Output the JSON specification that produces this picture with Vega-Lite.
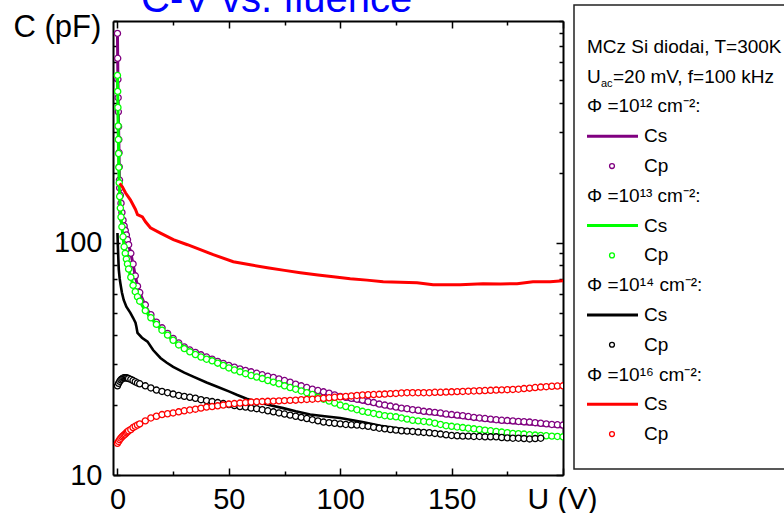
{
"$schema":"https://vega.github.io/schema/vega-lite/v6.json",
"width":450,"height":454,
"autosize":{"type":"none"},
"padding":{"left":113,"top":21,"right":221,"bottom":38},
"background":"white",
"config":{"view":{"stroke":null},"font":"Liberation Sans","axis":{"grid":false}},
"datasets":{
"pts":[
{"u":0,"a":796,"b":525,"c":24.2,"d":13.7},
{"u":0.1,"a":622,"b":448},
{"u":0.2,"a":505,"b":382},
{"u":0.3,"a":421,"b":318},
{"u":0.4,"a":366,"b":278},
{"u":0.5,"a":316,"b":242,"c":24.8,"d":13.95},
{"u":0.6,"a":278,"b":211},
{"u":0.7,"a":244},
{"u":0.8,"a":212,"b":181},
{"u":0.9,"a":186},
{"u":1,"a":172,"b":158,"c":25.3,"d":14.2},
{"u":1.3,"a":160,"b":141},
{"u":1.5,"c":25.7,"d":14.4},
{"u":1.6,"a":148,"b":129},
{"u":2,"a":135,"b":117,"c":25.9,"d":14.6},
{"u":2.5,"a":125,"b":106,"c":26.1,"d":14.75},
{"u":3,"a":118,"b":96,"c":26.2,"d":14.9},
{"u":3.5,"a":113,"b":90,"c":26.2,"d":15.0},
{"u":4,"a":108,"b":85,"c":26.2,"d":15.2},
{"u":4.5,"a":103,"b":81,"c":26.1,"d":15.35},
{"u":5,"a":98,"b":77,"c":26.0,"d":15.5},
{"u":6,"a":90,"b":71,"c":25.8,"d":15.7},
{"u":7,"a":81,"b":65.5,"c":25.5,"d":16.0},
{"u":8,"a":72,"b":61.5,"c":25.2,"d":16.2},
{"u":9,"a":65,"b":58.5,"c":24.9,"d":16.4},
{"u":10,"a":61,"b":56,"c":24.7,"d":16.6},
{"u":12.5,"a":54,"b":51,"c":24.2,"d":17.1},
{"u":15,"a":49,"b":47.5,"c":23.7,"d":17.6},
{"u":17.5,"a":45.5,"b":44.5,"c":23.2,"d":17.9},
{"u":20,"a":43,"b":42,"c":22.9,"d":18.2},
{"u":22.5,"a":40.7,"b":40,"c":22.6,"d":18.35},
{"u":25,"a":38.7,"b":38,"c":22.3,"d":18.5},
{"u":27.5,"a":37.0,"b":36.3,"c":22.0,"d":18.7},
{"u":30,"a":35.6,"b":35,"c":21.8,"d":18.9},
{"u":32.5,"a":34.5,"b":33.9,"c":21.6,"d":19.05},
{"u":35,"a":33.7,"b":33,"c":21.4,"d":19.2},
{"u":37.5,"a":32.9,"b":32.2,"c":21.1,"d":19.4},
{"u":40,"a":32.2,"b":31.5,"c":20.9,"d":19.6},
{"u":42.5,"a":31.5,"b":31.0,"c":20.7,"d":19.7},
{"u":45,"a":30.8,"b":30.3,"c":20.5,"d":19.85},
{"u":47.5,"a":30.2,"b":29.6,"c":20.3,"d":20.0},
{"u":50,"a":29.6,"b":28.9,"c":20.1,"d":20.2},
{"u":52.5,"a":29.1,"b":28.3,"c":19.9,"d":20.3},
{"u":55,"a":28.6,"b":27.8,"c":19.7,"d":20.4},
{"u":57.5,"a":28.2,"b":27.3,"c":19.6,"d":20.5},
{"u":60,"a":27.8,"b":26.8,"c":19.4,"d":20.6},
{"u":62.5,"a":27.4,"b":26.4,"c":19.3,"d":20.65},
{"u":65,"a":27.0,"b":26.0,"c":19.1,"d":20.7},
{"u":67.5,"a":26.6,"b":25.5,"c":18.9,"d":20.75},
{"u":70,"a":26.3,"b":25.1,"c":18.7,"d":20.8},
{"u":72.5,"a":25.9,"b":24.7,"c":18.5,"d":20.85},
{"u":75,"a":25.5,"b":24.2,"c":18.3,"d":20.9},
{"u":77.5,"a":25.1,"b":23.8,"c":18.1,"d":20.95},
{"u":80,"a":24.6,"b":23.4,"c":17.9,"d":21.0},
{"u":82.5,"a":24.2,"b":23.0,"c":17.7,"d":21.1},
{"u":85,"a":23.8,"b":22.6,"c":17.5,"d":21.15},
{"u":87.5,"a":23.4,"b":22.2,"c":17.3,"d":21.2},
{"u":90,"a":23.1,"b":21.6,"c":17.1,"d":21.3},
{"u":92.5,"a":22.8,"b":21.2,"c":16.9,"d":21.4},
{"u":95,"a":22.5,"b":20.8,"c":16.8,"d":21.5},
{"u":97.5,"a":22.1,"b":20.4,"c":16.7,"d":21.6},
{"u":100,"a":21.8,"b":20.0,"c":16.6,"d":21.7},
{"u":102.5,"a":21.6,"b":19.7,"c":16.5,"d":21.8},
{"u":105,"a":21.4,"b":19.4,"c":16.45,"d":21.9},
{"u":107.5,"a":21.2,"b":19.1,"c":16.4,"d":22.0},
{"u":110,"a":21.0,"b":18.8,"c":16.3,"d":22.1},
{"u":112.5,"a":20.7,"b":18.6,"c":16.2,"d":22.15},
{"u":115,"a":20.5,"b":18.4,"c":16.05,"d":22.2},
{"u":117.5,"a":20.2,"b":18.2,"c":15.9,"d":22.25},
{"u":120,"a":20.0,"b":18.0,"c":15.8,"d":22.3},
{"u":122.5,"a":19.8,"b":17.9,"c":15.7,"d":22.4},
{"u":125,"a":19.6,"b":17.8,"c":15.6,"d":22.45},
{"u":127.5,"a":19.4,"b":17.6,"c":15.5,"d":22.55},
{"u":130,"a":19.3,"b":17.4,"c":15.45,"d":22.6},
{"u":132.5,"a":19.1,"b":17.2,"c":15.4,"d":22.6},
{"u":135,"a":19.0,"b":17.1,"c":15.3,"d":22.6},
{"u":137.5,"a":18.8,"b":17.0,"c":15.25,"d":22.6},
{"u":140,"a":18.7,"b":16.9,"c":15.2,"d":22.6},
{"u":142.5,"a":18.6,"b":16.7,"c":15.1,"d":22.7},
{"u":145,"a":18.5,"b":16.5,"c":15.0,"d":22.7},
{"u":147.5,"a":18.3,"b":16.3,"c":14.9,"d":22.75},
{"u":150,"a":18.2,"b":16.2,"c":14.8,"d":22.8},
{"u":152.5,"a":18.1,"b":16.1,"c":14.75,"d":22.85},
{"u":155,"a":18.0,"b":16.0,"c":14.7,"d":22.9},
{"u":157.5,"a":17.85,"b":15.9,"c":14.7,"d":22.95},
{"u":160,"a":17.7,"b":15.8,"c":14.65,"d":23.0},
{"u":162.5,"a":17.6,"b":15.7,"c":14.65,"d":23.05},
{"u":165,"a":17.5,"b":15.6,"c":14.6,"d":23.1},
{"u":167.5,"a":17.4,"b":15.5,"c":14.6,"d":23.15},
{"u":170,"a":17.3,"b":15.4,"c":14.6,"d":23.2},
{"u":172.5,"a":17.2,"b":15.3,"c":14.5,"d":23.25},
{"u":175,"a":17.15,"b":15.2,"c":14.45,"d":23.3},
{"u":177.5,"a":17.1,"b":15.1,"c":14.4,"d":23.35},
{"u":180,"a":17.0,"b":15.05,"c":14.4,"d":23.4},
{"u":182.5,"a":16.95,"b":15.0,"c":14.35,"d":23.55},
{"u":185,"a":16.9,"b":14.9,"c":14.3,"d":23.65},
{"u":187.5,"a":16.8,"b":14.85,"c":14.35,"d":23.8},
{"u":190,"a":16.7,"b":14.8,"c":14.4,"d":23.9},
{"u":192.5,"a":16.6,"b":14.75,"d":24.0},
{"u":195,"a":16.5,"b":14.7,"d":24.1},
{"u":197.5,"a":16.45,"b":14.65,"d":24.15},
{"u":200,"a":16.4,"b":14.6,"d":24.2}
],
"ls12":[{"u":0,"v":800},{"u":0.1,"v":630},{"u":0.2,"v":510},{"u":0.3,"v":425},{"u":0.4,"v":370},{"u":0.5,"v":318},{"u":0.6,"v":280},{"u":0.7,"v":245},{"u":0.8,"v":213},{"u":0.9,"v":188},{"u":1,"v":172},{"u":1.3,"v":160},{"u":1.6,"v":148},{"u":2,"v":135},{"u":2.5,"v":125},{"u":3,"v":118},{"u":3.5,"v":113},{"u":4,"v":108},{"u":5,"v":98},{"u":6,"v":90},{"u":7,"v":81},{"u":8,"v":72},{"u":9,"v":65},{"u":10,"v":61},{"u":12.5,"v":53.5},{"u":15,"v":48.5},{"u":17.5,"v":45},{"u":20,"v":42.5},{"u":25,"v":38.3},{"u":30,"v":35.2},{"u":35,"v":33.3},{"u":40,"v":31.8},{"u":45,"v":30.4},{"u":50,"v":29.2},{"u":55,"v":28.2},{"u":60,"v":27.3},{"u":65,"v":26.5},{"u":70,"v":25.8},{"u":75,"v":25.0},{"u":80,"v":24.2},{"u":85,"v":23.4},{"u":90,"v":22.7},{"u":95,"v":22.1},{"u":100,"v":21.5},{"u":110,"v":20.6},{"u":120,"v":19.7},{"u":130,"v":19.0},{"u":140,"v":18.4},{"u":150,"v":17.9},{"u":160,"v":17.4},{"u":170,"v":17.0},{"u":180,"v":16.7},{"u":190,"v":16.4},{"u":200,"v":16.1}],
"ls13":[{"u":0,"v":525},{"u":0.1,"v":448},{"u":0.2,"v":382},{"u":0.3,"v":318},{"u":0.4,"v":278},{"u":0.5,"v":242},{"u":0.6,"v":211},{"u":0.8,"v":181},{"u":1,"v":158},{"u":1.3,"v":141},{"u":1.6,"v":129},{"u":2,"v":117},{"u":2.5,"v":106},{"u":3,"v":96},{"u":4,"v":85},{"u":5,"v":77},{"u":6,"v":71},{"u":7,"v":65.5},{"u":8,"v":61.5},{"u":10,"v":56},{"u":12.5,"v":51},{"u":15,"v":47.5},{"u":20,"v":42},{"u":25,"v":38},{"u":30,"v":35},{"u":35,"v":33},{"u":40,"v":31.5},{"u":50,"v":28.9},{"u":60,"v":26.8},{"u":70,"v":25.1},{"u":80,"v":23.4},{"u":90,"v":21.6},{"u":100,"v":20.0},{"u":110,"v":18.8},{"u":120,"v":18.0},{"u":130,"v":17.4},{"u":140,"v":16.9},{"u":150,"v":16.2},{"u":160,"v":15.8},{"u":170,"v":15.4},{"u":180,"v":15.05},{"u":190,"v":14.8},{"u":200,"v":14.6}],
"ls14":[{"u":0,"v":110},{"u":0.2,"v":96},{"u":0.4,"v":85},{"u":0.6,"v":76.6},{"u":1,"v":70},{"u":1.3,"v":67},{"u":2,"v":61},{"u":2.8,"v":56.7},{"u":4,"v":53},{"u":5.8,"v":49.9},{"u":7,"v":47.5},{"u":8.1,"v":45.2},{"u":8.5,"v":43.5},{"u":9,"v":40.9},{"u":11,"v":39},{"u":13.5,"v":37.5},{"u":16,"v":34.5},{"u":19.3,"v":31.9},{"u":22,"v":30.5},{"u":25,"v":29.2},{"u":30,"v":27.6},{"u":34,"v":26.5},{"u":40,"v":25.0},{"u":44.8,"v":24.0},{"u":50,"v":22.9},{"u":53.8,"v":22.1},{"u":58,"v":21.3},{"u":62.8,"v":20.6},{"u":68,"v":20.0},{"u":74.4,"v":19.4},{"u":80,"v":18.8},{"u":86.5,"v":18.2},{"u":93,"v":17.9},{"u":100,"v":17.6},{"u":110,"v":16.9},{"u":118,"v":16.3},{"u":125.6,"v":15.9},{"u":135,"v":15.5},{"u":150.7,"v":14.9},{"u":160,"v":14.75},{"u":176,"v":14.6},{"u":185,"v":14.3}],
"ls16":[{"u":1,"v":180},{"u":2.2,"v":174},{"u":3.6,"v":164},{"u":5.8,"v":153},{"u":8.1,"v":139},{"u":9,"v":132},{"u":11.2,"v":129},{"u":12.6,"v":123},{"u":14.8,"v":116},{"u":19.3,"v":110},{"u":25.1,"v":103},{"u":31.4,"v":98},{"u":37.2,"v":93.3},{"u":43,"v":88.8},{"u":52,"v":82.8},{"u":59.6,"v":80.3},{"u":67.3,"v":78.0},{"u":75,"v":76},{"u":82.1,"v":74.3},{"u":90,"v":72.6},{"u":96.9,"v":71.3},{"u":104.5,"v":70.0},{"u":112,"v":69},{"u":119.3,"v":67.9},{"u":127,"v":67.5},{"u":134.5,"v":67.3},{"u":141.7,"v":65.9},{"u":153.8,"v":65.9},{"u":164.1,"v":66.6},{"u":172,"v":66.4},{"u":179.4,"v":66.6},{"u":186.5,"v":67.9},{"u":194.2,"v":67.9},{"u":200,"v":68.6}],
"leg":[
{"k":"t1","r":"h","g":"0","t":"MCz Si diodai, T=300K"},
{"k":"t2","r":"u","g":"0","t":"U","sb":"ac","rt":"=20 mV, f=100 kHz"},
{"k":"h12","r":"h","g":"12","t":"Φ =10¹² cm⁻²:"},
{"k":"s12","r":"s","g":"12","t":"Cs"},
{"k":"p12","r":"p","g":"12","t":"Cp"},
{"k":"h13","r":"h","g":"13","t":"Φ =10¹³ cm⁻²:"},
{"k":"s13","r":"s","g":"13","t":"Cs"},
{"k":"p13","r":"p","g":"13","t":"Cp"},
{"k":"h14","r":"h","g":"14","t":"Φ =10¹⁴ cm⁻²:"},
{"k":"s14","r":"s","g":"14","t":"Cs"},
{"k":"p14","r":"p","g":"14","t":"Cp"},
{"k":"h16","r":"h","g":"16","t":"Φ =10¹⁶ cm⁻²:"},
{"k":"s16","r":"s","g":"16","t":"Cs"},
{"k":"p16","r":"p","g":"16","t":"Cp"}
]
},
"layer":[
{
"layer":[
{"data":{"name":"ls12"},"mark":{"type":"line","color":"#800080","strokeWidth":3,"clip":true},
 "encoding":{
  "x":{"field":"u","type":"quantitative","scale":{"domain":[-2,200],"nice":false,"zero":false},
   "axis":{"orient":"bottom","values":[0,25,50,75,100,125,150,175,200],"labelExpr":"datum.value % 50 === 0 && datum.value < 200 ? datum.value + '' : ''","labelFontSize":29,"labelFont":"Liberation Sans","labelColor":"black","labelBaseline":"alphabetic","labelPadding":40,"labelFlush":false,"labelOverlap":false,"labelBound":false,"domainColor":"black","domainWidth":2,"tickColor":"black","tickWidth":1.5,"tickSize":{"condition":{"test":"datum.value % 50 === 0","value":-7},"value":-4},"title":"U (V)","titleX":414,"titleY":33,"titleAlign":"left","titleBaseline":"alphabetic","titleFontSize":30,"titleFontWeight":"normal","titleFont":"Liberation Sans","titleColor":"black"}},
  "y":{"field":"v","type":"quantitative","scale":{"type":"log","domain":[10,900],"nice":false},
   "axis":{"orient":"left","values":[10,20,30,40,50,60,70,80,90,100,200,300,400,500,600,700,800,900],"labelExpr":"datum.value === 10 || datum.value === 100 ? datum.value + '' : ''","labelFontSize":29,"labelFont":"Liberation Sans","labelColor":"black","labelPadding":18,"labelFlush":false,"labelOverlap":false,"labelBound":false,"domainColor":"black","domainWidth":2,"tickColor":"black","tickWidth":1.5,"tickSize":{"condition":{"test":"datum.value === 10 || datum.value === 100","value":-7},"value":-4},"title":"C (pF)","titleAngle":0,"titleX":-100,"titleY":15,"titleAlign":"left","titleBaseline":"alphabetic","titleFontSize":31,"titleFontWeight":"normal","titleFont":"Liberation Sans","titleColor":"black"}}
 }},
{"data":{"name":"pts"},"transform":[{"filter":"isValid(datum.a)"}],"mark":{"type":"point","shape":"circle","filled":true,"fill":"white","stroke":"#800080","strokeWidth":1.3,"size":38,"opacity":1,"clip":true},
 "encoding":{
  "x":{"field":"u","type":"quantitative","axis":{"orient":"top","values":[0,25,50,75,100,125,150,175,200],"labels":false,"title":null,"domainColor":"black","domainWidth":2,"tickColor":"black","tickWidth":1.5,"tickSize":{"condition":{"test":"datum.value % 50 === 0","value":-7},"value":-4}}},
  "y":{"field":"a","type":"quantitative","axis":{"orient":"right","values":[10,20,30,40,50,60,70,80,90,100,200,300,400,500,600,700,800,900],"labels":false,"title":null,"domainColor":"black","domainWidth":2,"tickColor":"black","tickWidth":1.5,"tickSize":{"condition":{"test":"datum.value === 10 || datum.value === 100","value":-7},"value":-4}}}
 }},
{"data":{"name":"ls13"},"mark":{"type":"line","color":"#00ff00","strokeWidth":3,"clip":true},
 "encoding":{"x":{"field":"u","type":"quantitative","axis":null},"y":{"field":"v","type":"quantitative","axis":null}}},
{"data":{"name":"pts"},"transform":[{"filter":"isValid(datum.b)"}],"mark":{"type":"point","shape":"circle","filled":true,"fill":"white","stroke":"#00ff00","strokeWidth":1.3,"size":38,"opacity":1,"clip":true},
 "encoding":{"x":{"field":"u","type":"quantitative","axis":null},"y":{"field":"b","type":"quantitative","axis":null}}},
{"data":{"name":"ls14"},"mark":{"type":"line","color":"#000000","strokeWidth":2.6,"clip":true},
 "encoding":{"x":{"field":"u","type":"quantitative","axis":null},"y":{"field":"v","type":"quantitative","axis":null}}},
{"data":{"name":"pts"},"transform":[{"filter":"isValid(datum.c)"}],"mark":{"type":"point","shape":"circle","filled":true,"fill":"white","stroke":"#000000","strokeWidth":1.3,"size":38,"opacity":1,"clip":true},
 "encoding":{"x":{"field":"u","type":"quantitative","axis":null},"y":{"field":"c","type":"quantitative","axis":null}}},
{"data":{"name":"ls16"},"mark":{"type":"line","color":"#ff0000","strokeWidth":3,"clip":true},
 "encoding":{"x":{"field":"u","type":"quantitative","axis":null},"y":{"field":"v","type":"quantitative","axis":null}}},
{"data":{"name":"pts"},"transform":[{"filter":"isValid(datum.d)"}],"mark":{"type":"point","shape":"circle","filled":true,"fill":"white","stroke":"#ff0000","strokeWidth":1.3,"size":38,"opacity":1,"clip":true},
 "encoding":{"x":{"field":"u","type":"quantitative","axis":null},"y":{"field":"d","type":"quantitative","axis":null}}}
],
"resolve":{"axis":{"x":"independent","y":"independent"}}
},
{
"data":{"name":"leg"},
"encoding":{"y":{"field":"k","type":"ordinal","scale":{"type":"point","domain":["t1","t2","h12","s12","p12","h13","s13","p13","h14","s14","p14","h16","s16","p16"],"range":[11,428]},"axis":null}},
"layer":[
{"transform":[{"filter":"datum.r === 'h' || datum.r === 'u'"}],"mark":{"type":"text","align":"left","baseline":"middle","fontSize":19,"font":"Liberation Sans","color":"black"},"encoding":{"x":{"value":474},"text":{"field":"t"}}},
{"transform":[{"filter":"datum.r === 'u'"}],"mark":{"type":"text","align":"left","baseline":"middle","fontSize":11,"dy":7,"font":"Liberation Sans","color":"black"},"encoding":{"x":{"value":488},"text":{"field":"sb"}}},
{"transform":[{"filter":"datum.r === 'u'"}],"mark":{"type":"text","align":"left","baseline":"middle","fontSize":19,"font":"Liberation Sans","color":"black"},"encoding":{"x":{"value":500},"text":{"field":"rt"}}},
{"transform":[{"filter":"datum.r === 's' || datum.r === 'p'"}],"mark":{"type":"text","align":"left","baseline":"middle","fontSize":19,"font":"Liberation Sans","color":"black"},"encoding":{"x":{"value":531},"text":{"field":"t"}}},
{"transform":[{"filter":"datum.r === 's'"}],"mark":{"type":"rule","strokeWidth":3},"encoding":{"x":{"value":474},"x2":{"value":525},"stroke":{"field":"g","type":"nominal","scale":{"domain":["12","13","14","16"],"range":["#800080","#00ff00","#000000","#ff0000"]},"legend":null}}},
{"transform":[{"filter":"datum.r === 'p'"}],"mark":{"type":"point","shape":"circle","filled":true,"fill":"white","size":24,"strokeWidth":1.3,"opacity":1},"encoding":{"x":{"value":499},"stroke":{"field":"g","type":"nominal","scale":{"domain":["12","13","14","16"],"range":["#800080","#00ff00","#000000","#ff0000"]},"legend":null}}}
]
},
{"data":{"values":[{}]},"mark":{"type":"rect","fill":"transparent","stroke":"#222222","strokeWidth":1.5},"encoding":{"x":{"value":461},"x2":{"value":700},"y":{"value":-16},"y2":{"value":448}}},
{"data":{"values":[{"t":"C-V vs. fluence"}]},"mark":{"type":"text","align":"left","baseline":"alphabetic","fontSize":40,"font":"Liberation Sans","color":"#0000ff"},"encoding":{"x":{"value":28},"y":{"value":-9},"text":{"field":"t"}}}
],
"resolve":{"scale":{"y":"independent"}}
}
